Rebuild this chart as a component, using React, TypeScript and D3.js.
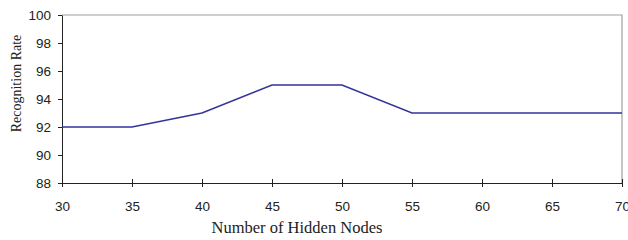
import { useEffect, useRef } from "react";
import * as d3 from "d3";

// Number of hidden nodes vs recognition rate
const hiddenNodes = [30, 35, 40, 45, 50, 55, 60, 65, 70];
const recognitionRate = [92, 92, 93, 95, 95, 93, 93, 93, 93];
const xTicks = [30, 35, 40, 45, 50, 55, 60, 65, 70];
const yTicks = [88, 90, 92, 94, 96, 98, 100];

export default function App() {
    const svgRef = useRef<SVGSVGElement | null>(null);

    useEffect(() => {
        if (!svgRef.current) return;
        d3.select(svgRef.current).selectAll("*").remove();

        const width = 628;
        const height = 240;
        const margin = { top: 15, right: 6, bottom: 57, left: 62 };

        const svg = d3.select(svgRef.current);

        const x = d3
            .scaleLinear()
            .domain([30, 70])
            .range([margin.left, width - margin.right]);
        const y = d3
            .scaleLinear()
            .domain([88, 100])
            .range([height - margin.bottom, margin.top]);

        // frame (top and right in grey)
        svg.append("path")
            .attr("d", `M${x(30)},${y(100)}H${x(70)}V${y(88)}`)
            .attr("fill", "none")
            .attr("stroke", "#a0a0a0")
            .attr("stroke-width", 1.2);

        // y axis
        const yAxis = svg
            .append("g")
            .attr("transform", `translate(${x(30)},0)`)
            .call(d3.axisLeft(y).tickValues(yTicks).tickSize(4).tickSizeOuter(0));
        yAxis.select(".domain").attr("stroke", "#222");
        yAxis.selectAll("line").attr("stroke", "#222");
        yAxis
            .selectAll("text")
            .attr("font-family", "Liberation Sans, Arial, sans-serif")
            .attr("font-size", "13.5px")
            .attr("fill", "#222")
            .attr("x", -11);

        // x axis
        const xAxis = svg
            .append("g")
            .attr("transform", `translate(0,${y(88)})`)
            .call(d3.axisBottom(x).tickValues(xTicks).tickSize(4).tickSizeOuter(0));
        xAxis.select(".domain").attr("stroke", "#222").attr("stroke-width", 1.2);
        xAxis.selectAll(".tick line").attr("stroke", "#222").attr("y1", -4);
        xAxis
            .selectAll("text")
            .attr("font-family", "Liberation Sans, Arial, sans-serif")
            .attr("font-size", "13.5px")
            .attr("fill", "#222")
            .attr("y", 18);

        // line
        const line = d3
            .line<number>()
            .x((d, i) => x(hiddenNodes[i]))
            .y((d) => y(d));
        svg.append("path")
            .datum(recognitionRate)
            .attr("d", line)
            .attr("fill", "none")
            .attr("stroke", "#333399")
            .attr("stroke-width", 1.5);

        // axis titles
        svg.append("text")
            .attr("x", 297)
            .attr("y", 233)
            .attr("text-anchor", "middle")
            .attr("font-family", "Liberation Serif, Times New Roman, serif")
            .attr("font-size", "16.5px")
            .attr("fill", "#222")
            .text("Number of Hidden Nodes");

        svg.append("text")
            .attr("transform", `translate(21,${83.5}) rotate(-90)`)
            .attr("text-anchor", "middle")
            .attr("font-family", "Liberation Serif, Times New Roman, serif")
            .attr("font-size", "14px")
            .attr("fill", "#222")
            .text("Recognition Rate");
    }, []);

    return (
        <svg
            ref={svgRef}
            width={628}
            height={240}
            style={{ position: "absolute", left: 0, top: 0, background: "#fff" }}
        />
    );
}
